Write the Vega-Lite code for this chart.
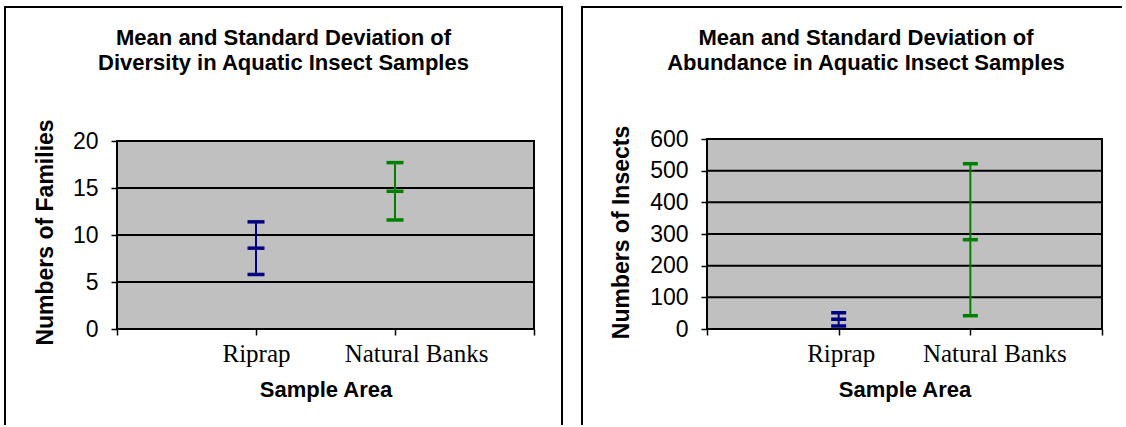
{
  "$schema": "https://vega.github.io/schema/vega-lite/v6.json",
  "background": "white",
  "padding": {"left": 4, "top": 6, "right": 0, "bottom": 0},
  "spacing": 18,
  "hconcat": [
    {
      "width": 557,
      "height": 418,
      "view": {"fill": "white", "stroke": "black", "strokeWidth": 2, "strokeDash": [975, 557, 430]},
      "title": {
        "text": ["Mean and Standard Deviation of", "Diversity in Aquatic Insect Samples"],
        "font": "Liberation Sans", "fontSize": 22, "fontWeight": "bold", "color": "black",
        "anchor": "middle", "frame": "group", "offset": -85, "baseline": "alphabetic", "lineHeight": 25
      },
      "data": {"values": [
        {"area": "Riprap", "lo": 5.8, "mean": 8.6, "hi": 11.4},
        {"area": "Natural Banks", "lo": 11.6, "mean": 14.65, "hi": 17.7}
      ]},
      "layer": [
        {
          "data": {"values": [{}]},
          "mark": {"type": "rect", "fill": "#C0C0C0", "stroke": "black", "strokeWidth": 2},
          "encoding": {
            "x": {"datum": "start", "type": "nominal",
              "scale": {"type": "point", "domain": ["start", "Riprap", "Natural Banks", "end"], "range": [112, 529], "padding": 0},
              "axis": {
                "orient": "bottom", "offset": -96, "domain": false, "grid": false,
                "tickSize": 6, "tickColor": "black", "tickWidth": 1.5,
                "labelExpr": "datum.value == 'Riprap' || datum.value == 'Natural Banks' ? datum.value : ''",
                "labelFont": "Liberation Serif", "labelFontSize": 25, "labelColor": "black",
                "labelBaseline": "alphabetic", "labelPadding": 26, "labelAngle": 0,
                "labelOffset": {"condition": {"test": "datum.value == 'Natural Banks'", "value": 21}, "value": 0},
                "title": "Sample Area", "titleFont": "Liberation Sans", "titleFontSize": 22,
                "titleFontWeight": "bold", "titleColor": "black", "titleBaseline": "alphabetic", "titleY": 67
              }},
            "x2": {"datum": "end"},
            "y": {"datum": 0, "type": "quantitative",
              "scale": {"domain": [0, 20], "range": [322, 134], "nice": false, "zero": false},
              "axis": {
                "orient": "left", "offset": -112, "values": [0, 5, 10, 15, 20], "domain": false, "grid": false,
                "tickSize": 6, "tickColor": "black", "tickWidth": 1.5,
                "labelFont": "Liberation Sans", "labelFontSize": 23, "labelColor": "black",
                "labelPadding": 13, "labelBaseline": "middle",
                "title": "Numbers of Families", "titleFont": "Liberation Sans", "titleFontSize": 23,
                "titleFontWeight": "bold", "titleColor": "black", "titleAngle": 270,
                "titleX": -72, "titleY": 225, "titleAlign": "center", "titleBaseline": "middle"
              }},
            "y2": {"datum": 20}
          }
        },
        {
          "data": {"values": [{"g": 5}, {"g": 10}, {"g": 15}]},
          "mark": {"type": "rule", "color": "black", "strokeWidth": 2},
          "encoding": {
            "x": {"datum": "start", "type": "nominal", "scale": {"type": "point", "domain": ["start", "Riprap", "Natural Banks", "end"], "range": [112, 529], "padding": 0}},
            "x2": {"datum": "end"},
            "y": {"field": "g", "type": "quantitative"}
          }
        },
        {
          "mark": {"type": "rule", "strokeWidth": 2},
          "encoding": {
            "x": {"field": "area", "type": "nominal", "scale": {"type": "point", "domain": ["start", "Riprap", "Natural Banks", "end"], "range": [112, 529], "padding": 0}},
            "y": {"field": "lo", "type": "quantitative"},
            "y2": {"field": "hi"},
            "color": {"field": "area", "type": "nominal", "scale": {"domain": ["Riprap", "Natural Banks"], "range": ["#000080", "#008000"]}, "legend": null}
          }
        },
        {
          "mark": {"type": "tick", "orient": "horizontal", "size": 17, "thickness": 3.5, "opacity": 1},
          "encoding": {
            "x": {"field": "area", "type": "nominal", "scale": {"type": "point", "domain": ["start", "Riprap", "Natural Banks", "end"], "range": [112, 529], "padding": 0}},
            "y": {"field": "lo", "type": "quantitative"},
            "color": {"field": "area", "type": "nominal", "scale": {"domain": ["Riprap", "Natural Banks"], "range": ["#000080", "#008000"]}, "legend": null}
          }
        },
        {
          "mark": {"type": "tick", "orient": "horizontal", "size": 17, "thickness": 3.5, "opacity": 1},
          "encoding": {
            "x": {"field": "area", "type": "nominal", "scale": {"type": "point", "domain": ["start", "Riprap", "Natural Banks", "end"], "range": [112, 529], "padding": 0}},
            "y": {"field": "mean", "type": "quantitative"},
            "color": {"field": "area", "type": "nominal", "scale": {"domain": ["Riprap", "Natural Banks"], "range": ["#000080", "#008000"]}, "legend": null}
          }
        },
        {
          "mark": {"type": "tick", "orient": "horizontal", "size": 17, "thickness": 3.5, "opacity": 1},
          "encoding": {
            "x": {"field": "area", "type": "nominal", "scale": {"type": "point", "domain": ["start", "Riprap", "Natural Banks", "end"], "range": [112, 529], "padding": 0}},
            "y": {"field": "hi", "type": "quantitative"},
            "color": {"field": "area", "type": "nominal", "scale": {"domain": ["Riprap", "Natural Banks"], "range": ["#000080", "#008000"]}, "legend": null}
          }
        }
      ]
    },
    {
      "width": 540,
      "height": 418,
      "view": {"fill": "white", "stroke": "black", "strokeWidth": 2, "strokeDash": [540, 958, 430]},
      "title": {
        "text": ["Mean and Standard Deviation of", "Abundance in Aquatic Insect Samples"],
        "font": "Liberation Sans", "fontSize": 22, "fontWeight": "bold", "color": "black",
        "anchor": "middle", "frame": "group", "offset": -85, "baseline": "alphabetic", "lineHeight": 25, "dx": 14
      },
      "data": {"values": [
        {"area": "Riprap", "lo": 9.5, "mean": 30.5, "hi": 51.5},
        {"area": "Natural Banks", "lo": 42, "mean": 282, "hi": 522}
      ]},
      "layer": [
        {
          "data": {"values": [{}]},
          "mark": {"type": "rect", "fill": "#C0C0C0", "stroke": "black", "strokeWidth": 2},
          "encoding": {
            "x": {"datum": "start", "type": "nominal",
              "scale": {"type": "point", "domain": ["start", "Riprap", "Natural Banks", "end"], "range": [125, 520], "padding": 0},
              "axis": {
                "orient": "bottom", "offset": -96, "domain": false, "grid": false,
                "tickSize": 6, "tickColor": "black", "tickWidth": 1.5,
                "labelExpr": "datum.value == 'Riprap' || datum.value == 'Natural Banks' ? datum.value : ''",
                "labelFont": "Liberation Serif", "labelFontSize": 25, "labelColor": "black",
                "labelBaseline": "alphabetic", "labelPadding": 26, "labelAngle": 0,
                "labelOffset": {"condition": {"test": "datum.value == 'Natural Banks'", "value": 24}, "value": 2},
                "title": "Sample Area", "titleFont": "Liberation Sans", "titleFontSize": 22,
                "titleFontWeight": "bold", "titleColor": "black", "titleBaseline": "alphabetic", "titleY": 67
              }},
            "x2": {"datum": "end"},
            "y": {"datum": 0, "type": "quantitative",
              "scale": {"domain": [0, 600], "range": [322, 132], "nice": false, "zero": false},
              "axis": {
                "orient": "left", "offset": -125, "values": [0, 100, 200, 300, 400, 500, 600], "domain": false, "grid": false,
                "tickSize": 6, "tickColor": "black", "tickWidth": 1.5,
                "labelFont": "Liberation Sans", "labelFontSize": 23, "labelColor": "black",
                "labelPadding": 13, "labelBaseline": "middle",
                "title": "Numbers of Insects", "titleFont": "Liberation Sans", "titleFontSize": 23,
                "titleFontWeight": "bold", "titleColor": "black", "titleAngle": 270,
                "titleX": -86, "titleY": 225, "titleAlign": "center", "titleBaseline": "middle"
              }},
            "y2": {"datum": 600}
          }
        },
        {
          "data": {"values": [{"g": 100}, {"g": 200}, {"g": 300}, {"g": 400}, {"g": 500}]},
          "mark": {"type": "rule", "color": "black", "strokeWidth": 2},
          "encoding": {
            "x": {"datum": "start", "type": "nominal", "scale": {"type": "point", "domain": ["start", "Riprap", "Natural Banks", "end"], "range": [125, 520], "padding": 0}},
            "x2": {"datum": "end"},
            "y": {"field": "g", "type": "quantitative"}
          }
        },
        {
          "mark": {"type": "rule", "strokeWidth": 2},
          "encoding": {
            "x": {"field": "area", "type": "nominal", "scale": {"type": "point", "domain": ["start", "Riprap", "Natural Banks", "end"], "range": [125, 520], "padding": 0}},
            "y": {"field": "lo", "type": "quantitative"},
            "y2": {"field": "hi"},
            "color": {"field": "area", "type": "nominal", "scale": {"domain": ["Riprap", "Natural Banks"], "range": ["#000080", "#008000"]}, "legend": null}
          }
        },
        {
          "mark": {"type": "tick", "orient": "horizontal", "size": 15, "thickness": 3.5, "opacity": 1},
          "encoding": {
            "x": {"field": "area", "type": "nominal", "scale": {"type": "point", "domain": ["start", "Riprap", "Natural Banks", "end"], "range": [125, 520], "padding": 0}},
            "y": {"field": "lo", "type": "quantitative"},
            "color": {"field": "area", "type": "nominal", "scale": {"domain": ["Riprap", "Natural Banks"], "range": ["#000080", "#008000"]}, "legend": null}
          }
        },
        {
          "mark": {"type": "tick", "orient": "horizontal", "size": 15, "thickness": 3.5, "opacity": 1},
          "encoding": {
            "x": {"field": "area", "type": "nominal", "scale": {"type": "point", "domain": ["start", "Riprap", "Natural Banks", "end"], "range": [125, 520], "padding": 0}},
            "y": {"field": "mean", "type": "quantitative"},
            "color": {"field": "area", "type": "nominal", "scale": {"domain": ["Riprap", "Natural Banks"], "range": ["#000080", "#008000"]}, "legend": null}
          }
        },
        {
          "mark": {"type": "tick", "orient": "horizontal", "size": 15, "thickness": 3.5, "opacity": 1},
          "encoding": {
            "x": {"field": "area", "type": "nominal", "scale": {"type": "point", "domain": ["start", "Riprap", "Natural Banks", "end"], "range": [125, 520], "padding": 0}},
            "y": {"field": "hi", "type": "quantitative"},
            "color": {"field": "area", "type": "nominal", "scale": {"domain": ["Riprap", "Natural Banks"], "range": ["#000080", "#008000"]}, "legend": null}
          }
        }
      ]
    }
  ]
}
